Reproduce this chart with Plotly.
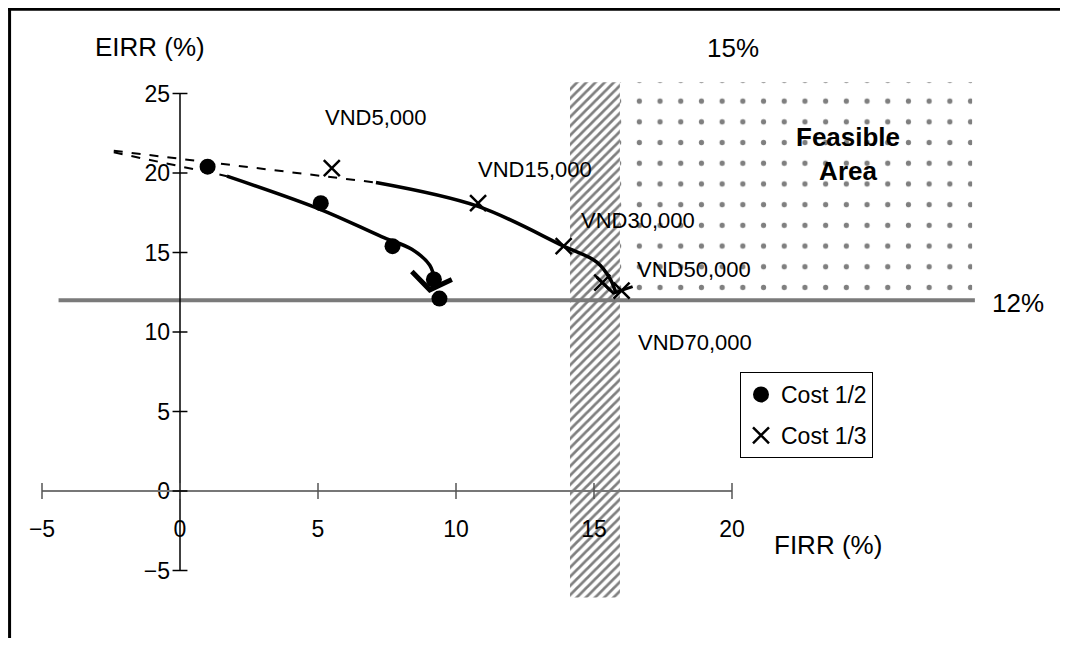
import plotly.graph_objects as go

# ---------------- data ----------------
x_ticks = [-5, 0, 5, 10, 15, 20]
y_ticks = [-5, 0, 5, 10, 15, 20, 25]

cost12_firr = [1.0, 5.1, 7.7, 9.2, 9.4]
cost12_eirr = [20.4, 18.1, 15.4, 13.3, 12.1]
cost13_firr = [5.5, 10.8, 13.9, 15.3, 16.0]
cost13_eirr = [20.3, 18.1, 15.4, 13.1, 12.6]

trend12_dash_x = [-2.4, 1.7]
trend12_dash_y = [21.3, 19.8]
trend12_x = [1.7, 5.1, 7.3, 8.4, 9.05, 9.25]
trend12_y = [19.8, 17.7, 16.0, 15.2, 14.2, 13.1]
hook12_x = [8.4, 9.05, 9.85]
hook12_y = [13.8, 12.65, 13.3]

trend13_dash_x = [-2.4, 7.1]
trend13_dash_y = [21.4, 19.4]
trend13_x = [7.1, 10.8, 13.9, 15.1, 15.6, 15.8]
trend13_y = [19.4, 17.9, 15.4, 14.4, 13.3, 12.4]
hook13_x = [15.1, 15.7, 16.4]
hook13_y = [13.45, 12.45, 12.85]

tariff_labels = ["VND5,000", "VND15,000", "VND30,000", "VND50,000", "VND70,000"]

firr_band = [14.13, 15.94]      # hatched 15% FIRR threshold band
eirr_threshold = 12
band_y = [-6.7, 25.7]
feasible_x = [15.94, 28.7]
line12_x = [-4.4, 28.8]

# ---------------- figure ----------------
W, H = 1052, 630
X_RANGE = [-172 / 27.6, (W - 172) / 27.6]
Y_RANGE = [-(H - 483) / 15.9, 483 / 15.9]

ARIAL = "Liberation Sans, Arial, sans-serif"

fig = go.Figure()

# hatched band
fig.add_trace(go.Scatter(
    x=[firr_band[0], firr_band[1], firr_band[1], firr_band[0], firr_band[0]],
    y=[band_y[0], band_y[0], band_y[1], band_y[1], band_y[0]],
    mode="none", fill="toself", fillcolor="white",
    fillpattern=dict(shape="/", fgcolor="black", bgcolor="white", size=6.5, solidity=0.42),
    showlegend=False, hoverinfo="skip"))

# dotted feasible area
fig.add_trace(go.Scatter(
    x=[feasible_x[0], feasible_x[1], feasible_x[1], feasible_x[0], feasible_x[0]],
    y=[eirr_threshold, eirr_threshold, band_y[1], band_y[1], eirr_threshold],
    mode="none", fill="toself", fillcolor="white",
    fillpattern=dict(shape=".", fgcolor="black", bgcolor="white", size=20.7, solidity=0.05),
    showlegend=False, hoverinfo="skip"))

# 12% line
fig.add_trace(go.Scatter(x=line12_x, y=[eirr_threshold, eirr_threshold], mode="lines",
                         line=dict(color="#7a7a7a", width=4), showlegend=False, hoverinfo="skip"))

# trend lines
fig.add_trace(go.Scatter(x=trend12_dash_x, y=trend12_dash_y, mode="lines",
                         line=dict(color="black", width=2, dash="dash"), showlegend=False))
fig.add_trace(go.Scatter(x=trend13_dash_x, y=trend13_dash_y, mode="lines",
                         line=dict(color="black", width=2, dash="dash"), showlegend=False))
fig.add_trace(go.Scatter(x=trend12_x, y=trend12_y, mode="lines",
                         line=dict(color="black", width=3.5, shape="spline"), showlegend=False))
fig.add_trace(go.Scatter(x=trend13_x, y=trend13_y, mode="lines",
                         line=dict(color="black", width=3.5, shape="spline"), showlegend=False))
fig.add_trace(go.Scatter(x=hook12_x, y=hook12_y, mode="lines",
                         line=dict(color="black", width=5), showlegend=False))
fig.add_trace(go.Scatter(x=hook13_x, y=hook13_y, mode="lines",
                         line=dict(color="black", width=3), showlegend=False))

# markers
fig.add_trace(go.Scatter(x=cost12_firr, y=cost12_eirr, mode="markers", name="Cost 1/2",
                         legendgroup="a",
                         marker=dict(symbol="circle", size=16, color="black")))
fig.add_trace(go.Scatter(x=cost13_firr, y=cost13_eirr, mode="markers", name="Cost 1/3",
                         legendgroup="b",
                         marker=dict(symbol="x-thin", size=16, color="black",
                                     line=dict(color="black", width=2.5))))

# axis lines and crossing tick marks
shapes = [
    dict(type="line", xref="x", yref="y", x0=x_ticks[0], x1=x_ticks[-1], y0=0, y1=0,
         line=dict(color="#777777", width=2)),
    dict(type="line", xref="x", yref="y", x0=0, x1=0, y0=y_ticks[0], y1=y_ticks[-1],
         line=dict(color="black", width=1.5)),
    # frame (top and left)
    dict(type="line", xref="paper", yref="paper", x0=0.0, x1=1, y0=0.998, y1=0.998,
         line=dict(color="black", width=3)),
    dict(type="line", xref="paper", yref="paper", x0=0.0015, x1=0.0015, y0=0, y1=1,
         line=dict(color="black", width=3)),
]
for t in x_ticks:
    shapes.append(dict(type="line", xref="x", yref="y", x0=t, x1=t, y0=-0.5, y1=0.5,
                       line=dict(color="#555555", width=1.5)))
for t in y_ticks:
    shapes.append(dict(type="line", xref="x", yref="y", x0=-0.27, x1=0.27, y0=t, y1=t,
                       line=dict(color="black", width=1.5)))

x_pos = (0 - Y_RANGE[0]) / (Y_RANGE[1] - Y_RANGE[0])
y_pos = (0 - X_RANGE[0]) / (X_RANGE[1] - X_RANGE[0])

ann_font = dict(family=ARIAL, size=22, color="black")
big_font = dict(family=ARIAL, size=26, color="black")
annotations = [
    dict(x=7.1, y=23.46, text=tariff_labels[0], font=ann_font),
    dict(x=12.86, y=20.19, text=tariff_labels[1], font=ann_font),
    dict(x=16.59, y=17.04, text=tariff_labels[2], font=ann_font),
    dict(x=18.62, y=13.90, text=tariff_labels[3], font=ann_font),
    dict(x=18.66, y=9.37, text=tariff_labels[4], font=ann_font),
    dict(x=20.04, y=27.86, text="15%", font=big_font),
    dict(x=30.36, y=11.82, text="12%", font=big_font),
    dict(x=-1.09, y=27.92, text="EIRR (%)", font=big_font),
    dict(x=23.48, y=-3.40, text="FIRR (%)", font=big_font),
    dict(x=24.2, y=21.2, text="<b>Feasible<br>Area</b>",
         font=dict(family=ARIAL, size=26, color="black")),
]
for a in annotations:
    a.update(xref="x", yref="y", showarrow=False, xanchor="center", yanchor="middle")

tick_font = dict(family=ARIAL, size=23, color="black")
fig.update_layout(
    width=W, height=H,
    margin=dict(l=0, r=0, t=0, b=0),
    paper_bgcolor="white", plot_bgcolor="white",
    xaxis=dict(range=X_RANGE, anchor="free", position=x_pos, showgrid=False, zeroline=False,
               showline=False, tickvals=x_ticks, ticks="", ticklabelstandoff=22,
               tickfont=tick_font, fixedrange=True),
    yaxis=dict(range=Y_RANGE, anchor="free", position=y_pos, showgrid=False, zeroline=False,
               showline=False, tickvals=y_ticks, ticks="", ticklabelstandoff=10,
               tickfont=tick_font, fixedrange=True),
    shapes=shapes,
    annotations=annotations,
    legend=dict(x=(740 - 8) / W, y=1 - (372 - 8) / H, xanchor="left", yanchor="top",
                bgcolor="white", bordercolor="black", borderwidth=1,
                font=dict(family=ARIAL, size=23, color="black"),
                itemwidth=30, tracegroupgap=8, traceorder="grouped"),
    showlegend=True,
)

fig.write_html("out.html")
